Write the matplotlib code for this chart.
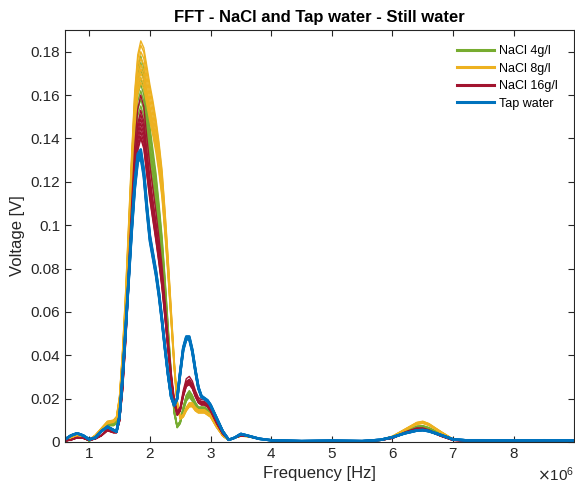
import numpy as np
import matplotlib
matplotlib.use("Agg")
import matplotlib.pyplot as plt
from matplotlib.ticker import ScalarFormatter, FuncFormatter

# frequency grid in MHz
freq_mhz = [0.6, 0.7, 0.8, 0.9, 1.0, 1.1, 1.2, 1.3, 1.4, 1.45, 1.5, 1.55, 1.6, 1.65,
            1.7, 1.75, 1.8, 1.85, 1.9, 1.95, 2.0, 2.05, 2.1, 2.15, 2.2, 2.25, 2.3,
            2.35, 2.4, 2.45, 2.5, 2.55, 2.6, 2.65, 2.7, 2.75, 2.8, 2.85, 2.9, 2.95,
            3.0, 3.1, 3.2, 3.3, 3.4, 3.5, 3.6, 3.8, 4.0, 4.5, 5.0, 5.5, 5.8, 6.0,
            6.2, 6.4, 6.5, 6.6, 6.8, 7.0, 7.2, 7.5, 8.0, 8.5, 9.0]

# mean curve of each group [V]
tap_water = [0.0012, 0.003, 0.004, 0.003, 0.0012, 0.002, 0.005, 0.007, 0.0055, 0.0048,
             0.012, 0.03, 0.052, 0.075, 0.098, 0.118, 0.131, 0.133, 0.124, 0.108,
             0.094, 0.086, 0.078, 0.068, 0.056, 0.043, 0.031, 0.021, 0.017, 0.020,
             0.032, 0.043, 0.048, 0.048, 0.042, 0.033, 0.025, 0.021, 0.020, 0.019,
             0.017, 0.011, 0.005, 0.001, 0.002, 0.0037, 0.003, 0.0015, 0.0008, 0.0004,
             0.0006, 0.0004, 0.001, 0.0022, 0.004, 0.0053, 0.0055, 0.005, 0.0032,
             0.0012, 0.0008, 0.0008, 0.0006, 0.0008, 0.0007]
nacl_4 = [0.0005, 0.0015, 0.0025, 0.002, 0.0005, 0.002, 0.005, 0.008, 0.008, 0.009,
          0.017, 0.035, 0.06, 0.09, 0.12, 0.145, 0.16, 0.165, 0.16, 0.148,
          0.135, 0.125, 0.115, 0.102, 0.088, 0.07, 0.05, 0.03, 0.014, 0.007,
          0.009, 0.015, 0.020, 0.022, 0.020, 0.017, 0.015, 0.015, 0.015, 0.014,
          0.013, 0.008, 0.003, 0.0008, 0.002, 0.003, 0.0028, 0.0015, 0.0008, 0.0003,
          0.0005, 0.0003, 0.0008, 0.002, 0.0045, 0.0068, 0.007, 0.0062, 0.0035,
          0.001, 0.0006, 0.0006, 0.0005, 0.0006, 0.0005]
nacl_8 = [0.0008, 0.002, 0.003, 0.0025, 0.001, 0.003, 0.006, 0.009, 0.0095, 0.011,
          0.02, 0.04, 0.065, 0.095, 0.125, 0.152, 0.168, 0.174, 0.171, 0.163,
          0.155, 0.148, 0.14, 0.13, 0.118, 0.10, 0.08, 0.058, 0.036, 0.018,
          0.011, 0.012, 0.015, 0.017, 0.017, 0.015, 0.014, 0.014, 0.014, 0.013,
          0.012, 0.007, 0.003, 0.001, 0.002, 0.0028, 0.0026, 0.0015, 0.0008, 0.0003,
          0.0005, 0.0003, 0.001, 0.0025, 0.0055, 0.0085, 0.009, 0.008, 0.0045,
          0.0012, 0.0006, 0.0006, 0.0005, 0.0006, 0.0005]
nacl_16 = [0.0005, 0.001, 0.002, 0.0018, 0.0008, 0.0015, 0.003, 0.0055, 0.0045, 0.0045,
           0.01, 0.025, 0.048, 0.075, 0.102, 0.126, 0.142, 0.148, 0.143, 0.13,
           0.118, 0.108, 0.098, 0.087, 0.075, 0.06, 0.044, 0.03, 0.019, 0.013,
           0.015, 0.022, 0.027, 0.028, 0.026, 0.022, 0.019, 0.018, 0.018, 0.017,
           0.015, 0.009, 0.004, 0.001, 0.002, 0.003, 0.0028, 0.0015, 0.0008, 0.0003,
           0.0005, 0.0003, 0.0008, 0.0018, 0.0042, 0.006, 0.006, 0.0052, 0.0028,
           0.0008, 0.0006, 0.0006, 0.0005, 0.0006, 0.0005]

# peak height of each measured trace [V]
peaks_4 = [0.178, 0.175, 0.172, 0.168, 0.165, 0.162, 0.158, 0.155]
peaks_8 = [0.185, 0.183, 0.180, 0.177, 0.174, 0.172, 0.170, 0.168, 0.166]
peaks_16 = [0.160, 0.153, 0.151, 0.149, 0.147, 0.145, 0.143, 0.141, 0.140]
peaks_tap = [0.135, 0.134, 0.133, 0.132, 0.131]

labels = ["NaCl 4g/l", "NaCl 8g/l", "NaCl 16g/l", "Tap water"]
colors = ["#77AC30", "#EDB120", "#A2142F", "#0072BD"]
widths = [1.0, 1.0, 1.0, 1.8]

plt.rcParams["font.family"] = ["Liberation Sans", "DejaVu Sans"]
fig = plt.figure(figsize=(5.75, 4.91), dpi=100)
ax = fig.add_axes([0.113, 0.0998, 0.886, 0.839])

f_hz = np.array(freq_mhz) * 1e6
groups = [(nacl_4, peaks_4), (nacl_8, peaks_8), (nacl_16, peaks_16), (tap_water, peaks_tap)]
for (curve, peaks), col, lw, lab in zip(groups, colors, widths, labels):
    curve = np.array(curve)
    for p in peaks:
        ax.plot(f_hz, curve * p / curve.max(), color=col, lw=lw)
    ax.plot([], [], color=col, lw=2.2, label=lab)

ax.set_xlim(0.6e6, 9e6)
ax.set_ylim(0, 0.19)
ax.set_xticks(np.arange(1, 9) * 1e6)
ax.set_yticks(np.arange(0, 0.181, 0.02))
ax.yaxis.set_major_formatter(FuncFormatter(lambda v, pos: "%g" % round(v, 2)))
fmt = ScalarFormatter(useMathText=True)
fmt.set_powerlimits((0, 0))
ax.xaxis.set_major_formatter(fmt)

dark = "#262626"
for s in ax.spines.values():
    s.set_color(dark)
    s.set_linewidth(0.8)
ax.tick_params(direction="in", length=4, width=0.8, colors=dark, labelsize=11,
               top=True, right=True)
ax.xaxis.get_offset_text().set_fontsize(11)
ax.xaxis.get_offset_text().set_color(dark)

ax.set_xlabel("Frequency [Hz]", fontsize=12, color=dark)
ax.set_ylabel("Voltage [V]", fontsize=12, color=dark)
ax.set_title("FFT - NaCl and Tap water - Still water", fontsize=12,
             fontweight="bold", color="black")

ax.legend(loc="upper right", bbox_to_anchor=(0.985, 0.985), frameon=False,
          fontsize=9, handlelength=3.0, handletextpad=0.4, labelspacing=0.45,
          borderaxespad=0.3)

fig.savefig("out.png", dpi=100)
